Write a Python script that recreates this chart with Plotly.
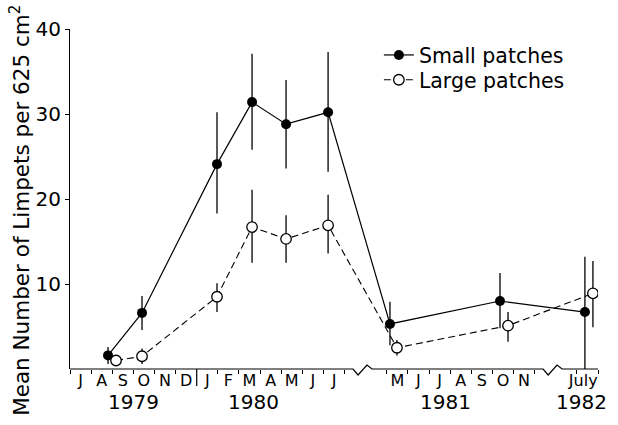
import plotly.graph_objects as go

# ---------------- data ----------------
# x in "axis months": 0 = start of July 1979 (axis has breaks after Jul 1980 and Nov 1981)
small_x = [1.80, 3.41, 6.96, 8.62, 10.23, 12.22, 15.15, 20.36, 24.38]
small_y = [1.6, 6.6, 24.1, 31.4, 28.8, 30.2, 5.3, 8.0, 6.7]
small_err_plus = [1.0, 2.0, 6.1, 5.7, 5.2, 7.1, 2.6, 3.3, 6.5]
small_err_minus = [1.0, 2.0, 5.8, 5.6, 5.2, 7.0, 2.5, 3.2, 6.7]

large_x = [2.18, 3.41, 6.96, 8.62, 10.23, 12.22, 15.48, 20.74, 24.76]
large_y = [1.0, 1.5, 8.5, 16.7, 15.3, 16.9, 2.5, 5.1, 8.9]
large_err_plus = [0.6, 0.9, 1.6, 4.4, 2.8, 3.6, 0.9, 1.6, 3.8]
large_err_minus = [0.6, 0.9, 1.8, 4.2, 2.8, 3.3, 0.9, 1.9, 4.0]

months_1979_80 = ["J", "A", "S", "O", "N", "D", "J", "F", "M", "A", "M", "J", "J"]
months_1981 = ["M", "J", "J", "A", "S", "O", "N"]
months_1982 = ["July"]
year_labels = ["1979", "1980", "1981", "1982"]
year_label_pos = [3.0, 8.7, 17.8, 24.2]
y_ticks = [10, 20, 30, 40]

# axis layout (structure of the broken time axis)
seg_starts = [0, 15, 24]          # axis-month where each segment starts
seg_label_offset = [0.5, 0.5, 0.3]
break_starts = [13.4, 22.4]       # where the zigzag break marks begin
year_boundary = 6                 # Dec 1979 / Jan 1980 boundary (long tick)
x_max = 25

# ---------------- derived tick positions ----------------
label_vals, label_text, minor_vals = [], [], []
for start, off, labs in zip(seg_starts, seg_label_offset,
                            [months_1979_80, months_1981, months_1982]):
    for i, lab in enumerate(labs):
        label_vals.append(start + i + off)
        label_text.append(lab)
    minor_vals.extend(start + i for i in range(len(labs) + 1))
minor_vals = [v for v in minor_vals if v != year_boundary]

FONT = "DejaVu Sans"
fig = go.Figure()

fig.add_trace(go.Scatter(
    x=small_x, y=small_y, mode="lines+markers", name="Small patches",
    legend="legend",
    line=dict(color="black", width=1.2),
    marker=dict(symbol="circle", size=10, color="black"),
    error_y=dict(type="data", symmetric=False, array=small_err_plus,
                 arrayminus=small_err_minus, width=0, thickness=1.3, color="black"),
))
fig.add_trace(go.Scatter(
    x=large_x, y=large_y, mode="lines+markers", name="Large patches",
    legend="legend2",
    line=dict(color="black", width=1.1, dash="7px,4px"),
    marker=dict(symbol="circle", size=10.5, color="white",
                line=dict(color="black", width=1.3)),
    error_y=dict(type="data", symmetric=False, array=large_err_plus,
                 arrayminus=large_err_minus, width=0, thickness=1.3, color="black"),
))

# broken x-axis line with zigzags
dx = [0, 0.24, 0.66, 0.9]
dy = [0, -6 / 340, 4 / 340, 0]
path = "M 0 0"
for b in break_starts:
    path += f" L {b} 0"
    for ddx, ddy in zip(dx[1:], dy[1:]):
        path += f" L {b + ddx} {ddy}"
path += f" L {x_max} 0"
fig.add_shape(type="path", path=path, xref="x", yref="paper",
              line=dict(color="black", width=1.2))
# long year-boundary tick
fig.add_shape(type="line", xref="x", yref="paper", x0=year_boundary, x1=year_boundary,
              y0=0, y1=-17 / 340, line=dict(color="black", width=1.2))

for yl, xp in zip(year_labels, year_label_pos):
    fig.add_annotation(x=xp, y=0, xref="x", yref="paper", yanchor="top",
                       yshift=-19, text=yl, showarrow=False,
                       font=dict(family=FONT, size=20, color="black"))

# y-axis title (placed as rotated text so it can be centred like the original)
fig.add_annotation(x=-0.096, y=0.466, xref="paper", yref="paper",
                   xanchor="center", yanchor="middle", textangle=-90,
                   text="Mean Number of Limpets per 625 cm<sup>2</sup>", showarrow=False,
                   font=dict(family=FONT, size=21.5, color="black"))

leg_common = dict(xanchor="left", yanchor="top", bgcolor="rgba(0,0,0,0)", borderwidth=0,
                  font=dict(family=FONT, size=20.5, color="black"), itemwidth=30)

fig.update_layout(
    width=618, height=425,
    margin=dict(l=70, r=20, t=29, b=56),
    paper_bgcolor="white", plot_bgcolor="white",
    font=dict(family=FONT, color="black"),
    showlegend=True,
    legend=dict(x=0.585, y=0.982, **leg_common),
    legend2=dict(x=0.585, y=0.909, **leg_common),
    xaxis=dict(range=[0, x_max], showline=False, showgrid=False, zeroline=False,
               tickmode="array", tickvals=label_vals, ticktext=label_text,
               ticks="", tickfont=dict(family=FONT, size=16, color="black"),
               minor=dict(tickmode="array", tickvals=minor_vals, ticks="outside",
                          ticklen=4, tickwidth=1.1, tickcolor="black", showgrid=False)),
    yaxis=dict(range=[0, 40], showline=True, linecolor="black", linewidth=1.2,
               showgrid=False, zeroline=False, tickmode="array", tickvals=y_ticks,
               ticks="outside", ticklen=4, tickwidth=1.1, tickcolor="black",
               tickfont=dict(family=FONT, size=20, color="black")),
)

fig.write_html("out.html")
